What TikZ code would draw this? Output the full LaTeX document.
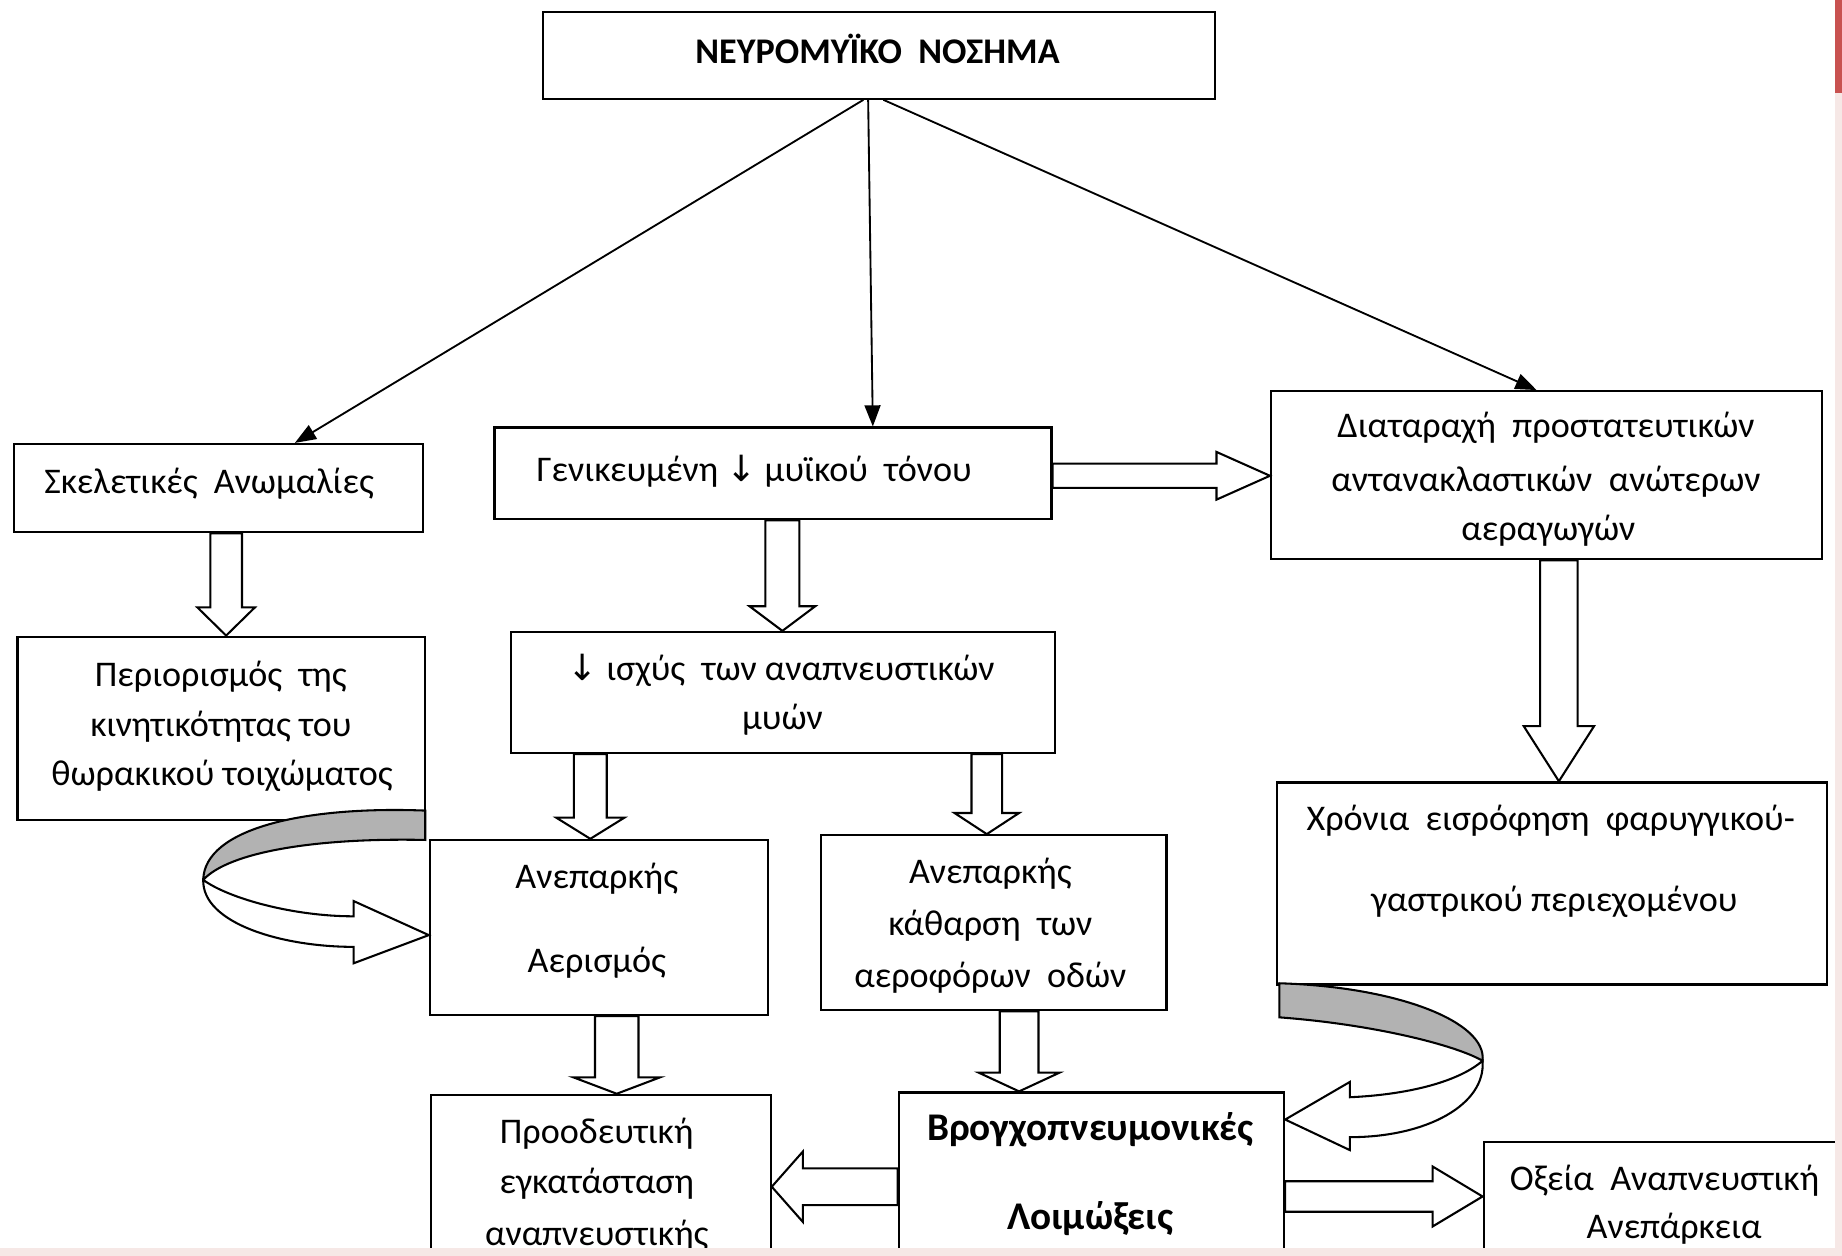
\documentclass[tikz,border=0pt]{standalone}
\usepackage{fontspec}
\setmainfont{Carlito}
\newfontfamily\dvs{DejaVu Sans}
\usetikzlibrary{calc,arrows.meta}
\definecolor{pinkbg}{RGB}{246,232,230}
\definecolor{redstrip}{RGB}{200,82,80}
\newcommand\mybox[5]{\node[box, minimum width={(#4-#2)*0.02cm}, minimum height={(#5-#3)*0.02cm}] (#1) at ({(#2+#4)/2},{(#3+#5)/2}) {};}
\newcommand\vblk[6]{%
  \draw[blk] (#3-#4,0 |- #1.south) -- ($(#3-#4,0 |- #2.north)+(0,-#6)$) -- ($(#3-#5,0 |- #2.north)+(0,-#6)$) -- (#3,0 |- #2.north) -- ($(#3+#5,0 |- #2.north)+(0,-#6)$) -- ($(#3+#4,0 |- #2.north)+(0,-#6)$) -- (#3+#4,0 |- #1.south) -- cycle;}
\newcommand\hblk[6]{%
  \draw[blk] (#1 |- 0,#3-#4) -- ($(#2 |- 0,#3-#4)+({-1*#6},0)$) -- ($(#2 |- 0,#3-#5)+({-1*#6},0)$) -- (#2 |- 0,#3) -- ($(#2 |- 0,#3+#5)+({-1*#6},0)$) -- ($(#2 |- 0,#3+#4)+({-1*#6},0)$) -- (#1 |- 0,#3+#4) -- cycle;}
\newcommand\dn{{\dvs\char"2193}}
\begin{document}
\begin{tikzpicture}[x=0.02cm,y=-0.02cm,
  box/.style={draw, line width=1.1pt, rectangle, inner sep=0pt},
  txt/.style={anchor=base, inner sep=0pt, font=\fontsize{17.5}{21}\selectfont},
  bold/.style={anchor=base, inner sep=0pt, font=\fontsize{19}{23}\selectfont\bfseries},
  conn/.style={line width=0.9pt, -{Triangle[length=0.36cm,width=0.27cm]}},
  blk/.style={draw, fill=white, line width=1pt, line join=miter},
  ribgrey/.style={draw, fill=black!30, line width=1pt},
  ribwhite/.style={draw, fill=white, line width=1pt}]
\useasboundingbox (0,0) rectangle (1568,1069);
\clip (0,0) rectangle (1568,1069);
\fill[white] (0,0) rectangle (1568,1069);

% boxes
\mybox{top}{462}{10}{1034}{84}
\mybox{sk}{12}{378}{360}{453}
\mybox{gen}{421}{364}{895}{442}
\mybox{dia}{1082}{333}{1551}{476}
\mybox{per}{15}{542}{362}{698}
\mybox{isx}{435}{538}{898}{641}
\mybox{aer}{366}{715}{654}{864}
\mybox{kath}{699}{711}{993}{860}
\mybox{xron}{1087}{666}{1555}{838}
\mybox{pro}{367}{932}{656}{1100}
\mybox{vro}{765}{930}{1093}{1100}
\mybox{oxe}{1263}{972}{1575}{1100}

% texts
\node[txt, font=\fontsize{17.5}{21}\selectfont\bfseries] (t0) at (747,54) {ΝΕΥΡΟΜΥΪΚΟ\ \ ΝΟΣΗΜΑ};
\node[txt] (t1) at (178,420) {Σκελετικές\ \ Ανωμαλίες};
\node[txt] (t2) at (642,410) {Γενικευμένη \dn\ μυϊκού\ \ τόνου};
\node[txt] (t3a) at (1316,372) {Διαταραχή\ \ προστατευτικών};
\node[txt] (t3b) at (1316,418) {αντανακλαστικών\ \ ανώτερων};
\node[txt] (t3c) at (1318,460) {αεραγωγών};
\node[txt] (t4a) at (188,584) {Περιορισμός\ \ της};
\node[txt] (t4b) at (188,627) {κινητικότητας του};
\node[txt] (t4c) at (189,669) {θωρακικού τοιχώματος};
\node[txt] (t5a) at (665,579) {\dn\ ισχύς\ \ των αναπνευστικών};
\node[txt] (t5b) at (666,621) {μυών};
\node[txt] (t6a) at (508,756) {Ανεπαρκής};
\node[txt] (t6b) at (508,828) {Αερισμός};
\node[txt] (t7a) at (843,752) {Ανεπαρκής};
\node[txt] (t7b) at (843,796) {κάθαρση\ \ των};
\node[txt] (t7c) at (843,841) {αεροφόρων\ \ οδών};
\node[txt] (t8a) at (1320,707) {Χρόνια\ \ εισρόφηση\ \ φαρυγγικού-};
\node[txt] (t8b) at (1323,776) {γαστρικού περιεχομένου};
\node[txt] (t9a) at (508,973) {Προοδευτική};
\node[txt] (t9b) at (508,1016) {εγκατάσταση};
\node[txt] (t9c) at (508,1060) {αναπνευστικής};
\node[bold] (t10a) at (928,971) {Βρογχοπνευμονικές};
\node[bold] (t10b) at (928,1047) {Λοιμώξεις};
\node[txt] (t11a) at (1417,1013) {Οξεία\ \ Αναπνευστική};
\node[txt] (t11b) at (1425,1054) {Ανεπάρκεια};

% thin connectors from the top box
\draw[conn] (735,0 |- top.south) -- (251,0 |- sk.north);
\draw[conn] (739,0 |- top.south) -- (743,0 |- gen.north);
\draw[conn] (752,0 |- top.south) -- (1308,0 |- dia.north);

% block arrows
\vblk{sk}{per}{192.5}{13.5}{24.5}{24}
\vblk{gen}{isx}{666}{14.5}{28}{21}
\vblk{isx}{aer}{502.5}{14}{29}{18}
\vblk{isx}{kath}{840}{13}{27.5}{18}
\vblk{dia}{xron}{1327}{16}{30}{47}
\vblk{aer}{pro}{525}{18.5}{37}{14}
\vblk{kath}{vro}{867.5}{16.5}{34.5}{16}
\hblk{gen.east}{dia.west}{405}{10.3}{20.3}{45.5}
\hblk{vro.west}{pro.east}{1010.2}{15.6}{30}{-26.5}
\hblk{vro.east}{oxe.west}{1018.5}{13}{25.5}{42.5}

% left ribbon arrow (Περιορισμός -> Αερισμός)
\path[ribgrey] (362,690) .. controls (260,686) and (174,705) .. (173,749)
   .. controls (195,725) and (270,713) .. (362,715) -- cycle;
\path[ribwhite] (173,749) .. controls (172,786) and (240,806) .. (301,806)
   -- (301,820) -- (365,796) -- (301,767) -- (301,780)
   .. controls (250,780) and (195,765) .. (173,749) -- cycle;

% right ribbon arrow (Χρόνια -> Βρογχοπνευμονικές)
\path[ribgrey] (1089,837) .. controls (1190,840) and (1266,870) .. (1262,903)
   .. controls (1240,890) and (1170,872) .. (1089,866) -- cycle;
\path[ribwhite] (1262,903) .. controls (1265,940) and (1215,968) .. (1149,968)
   -- (1149,979) -- (1094,953) -- (1149,921) -- (1149,934)
   .. controls (1195,932) and (1240,922) .. (1262,903) -- cycle;

% page edges of the scan
\fill[pinkbg] (0,1062.5) rectangle (1568,1069);
\fill[pinkbg] (1562,0) rectangle (1568,1069);
\fill[redstrip] (1562,0) rectangle (1568,79);
\end{tikzpicture}
\end{document}
